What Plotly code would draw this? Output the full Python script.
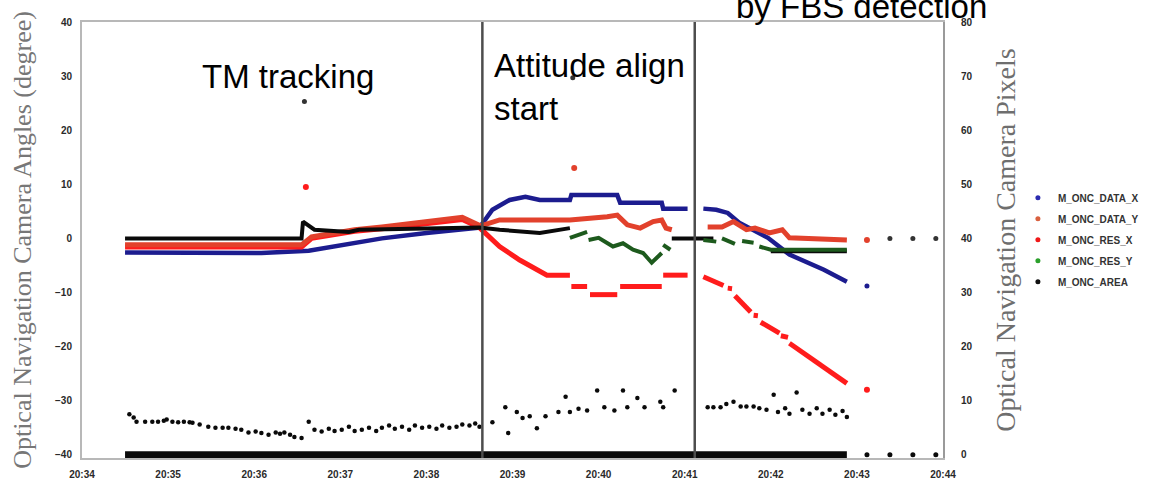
import plotly.graph_objects as go
from plotly.subplots import make_subplots

DAY = "2021-01-01 "

# ---------------- data ----------------
# M_ONC_DATA_X (blue), degrees
data_x_t = ["20:34:30", "20:35:30", "20:36:05", "20:36:38", "20:37:06", "20:37:29", "20:38:00",
            "20:38:37", "20:38:46", "20:38:58", "20:39:09", "20:39:19", "20:39:40", "20:39:41",
            "20:40:13", "20:40:15", "20:40:44", "20:40:45", "20:41:02", None,
            "20:41:13", "20:41:22", "20:41:30", "20:41:38", "20:41:58", "20:42:13", "20:42:37", "20:42:53"]
data_x_v = [-2.6, -2.7, -2.7, -2.3, -1.0, 0.0, 1.0,
            2.0, 5.3, 7.1, 7.7, 7.1, 7.1, 8.0,
            8.0, 6.6, 6.6, 5.5, 5.5, None,
            5.5, 5.3, 4.7, 2.9, 0.1, -3.0, -5.8, -8.0]
data_x_dot_t = ["20:43:07"]
data_x_dot_v = [-8.8]

# M_ONC_DATA_Y (upper red), degrees
data_y_t = ["20:34:30", "20:36:33", "20:36:40", "20:37:10", "20:37:29", "20:38:00", "20:38:25",
            "20:38:38", "20:38:51", "20:39:12", "20:39:40", "20:40:06", "20:40:13", "20:40:20",
            "20:40:29", "20:40:38", "20:40:44", "20:40:47", "20:40:51", None,
            "20:41:16", "20:41:26", "20:41:34", "20:41:43", "20:41:49", "20:41:59", "20:42:08",
            "20:42:13", "20:42:53"]
data_y_v = [-1.2, -1.2, 0.3, 1.6, 2.1, 3.0, 3.9,
            2.3, 3.4, 3.4, 3.4, 4.0, 4.3, 2.5,
            1.9, 3.1, 3.4, 1.9, 1.6, None,
            2.1, 2.1, 3.1, 1.6, 1.9, 1.0, 1.6,
            0.1, -0.3]
data_y_dot_t = ["20:43:07", "20:39:43"]
data_y_dot_v = [-0.3, 13.0]

# M_ONC_RES_X (lower red), degrees
res_x_t = ["20:34:30", "20:36:33", "20:36:40", "20:37:10", "20:37:29", "20:38:00", "20:38:25",
           "20:38:37", "20:38:51", "20:39:05", "20:39:24", "20:39:40", None,
           "20:39:41", "20:39:52", None, "20:39:54", "20:40:13", None,
           "20:40:15", "20:40:44", None, "20:40:45", "20:41:02", None,
           "20:41:13", "20:41:27", None, "20:41:30", "20:41:33", None,
           "20:41:35", "20:41:46", None, "20:41:48", "20:41:51", None,
           "20:41:53", "20:42:06", None, "20:42:07", "20:42:12", None,
           "20:42:13", "20:42:53"]
res_x_v = [-1.6, -1.6, 0.0, 1.3, 1.8, 2.7, 3.5,
           2.0, -1.5, -4.0, -6.8, -6.8, None,
           -8.9, -8.9, None, -10.4, -10.4, None,
           -8.9, -8.9, None, -6.8, -6.8, None,
           -7.1, -8.7, None, -9.2, -9.3, None,
           -10.6, -13.6, None, -14.2, -14.3, None,
           -15.5, -17.5, None, -18.0, -18.3, None,
           -19.4, -26.8]
res_x_dot_t = ["20:43:07", "20:36:36"]
res_x_dot_v = [-28.0, 9.5]

# M_ONC_RES_Y (green), degrees
res_y_t = ["20:39:40", "20:39:52", None,
           "20:39:53", "20:40:00", "20:40:10", "20:40:17", "20:40:24", "20:40:31", "20:40:37", "20:40:44", None,
           "20:40:45", "20:40:50", None,
           "20:41:13", "20:41:22", None, "20:41:26", "20:41:35", None,
           "20:41:40", "20:41:48", None, "20:41:52", "20:42:00", "20:42:53"]
res_y_v = [0.1, 1.2, None,
           -0.3, 0.1, -1.5, -0.9, -2.1, -2.7, -4.5, -2.7, None,
           -1.2, -2.1, None,
           -0.3, -0.6, None, 0.0, -1.0, None,
           -0.5, -0.8, None, -1.5, -2.1, -2.1]

# black trace near zero (degrees)
zero_t = ["20:34:30", "20:36:33", "20:36:34", "20:36:42", "20:37:06", "20:37:13", "20:38:37",
          "20:38:51", "20:39:19", "20:39:40", None,
          "20:40:51", "20:41:20", None, "20:42:00", "20:42:53"]
zero_v = [0.0, 0.0, 3.1, 1.6, 1.2, 1.6, 2.0,
          1.6, 1.0, 1.9, None,
          0.0, 0.0, None, -2.4, -2.4]
zero_dot_t = ["20:43:23", "20:43:39", "20:43:55", "20:36:35", "20:39:42"]
zero_dot_v = [0.0, 0.0, 0.0, 25.3, 29.7]

# M_ONC_AREA (black dots), pixels (right axis)
area_t = ["20:34:33", "20:34:36", "20:34:38", "20:34:44", "20:34:49", "20:34:53", "20:34:57", "20:34:59",
          "20:35:03", "20:35:07", "20:35:11", "20:35:15", "20:35:17", "20:35:22", "20:35:28", "20:35:33",
          "20:35:38", "20:35:42", "20:35:47", "20:35:51", "20:35:56", "20:36:01", "20:36:05", "20:36:10",
          "20:36:15", "20:36:18", "20:36:21", "20:36:25", "20:36:28", "20:36:33", "20:36:38", "20:36:42",
          "20:36:47", "20:36:52", "20:36:56", "20:37:01", "20:37:06", "20:37:10", "20:37:15", "20:37:20",
          "20:37:25", "20:37:29", "20:37:34", "20:37:38", "20:37:43", "20:37:48", "20:37:52", "20:37:57",
          "20:38:02", "20:38:07", "20:38:11", "20:38:16", "20:38:21", "20:38:25", "20:38:30", "20:38:34",
          "20:38:37", "20:38:46", "20:38:55", "20:38:57", "20:39:03", "20:39:07", "20:39:12", "20:39:17",
          "20:39:23", "20:39:32", "20:39:37", "20:39:40", "20:39:46", "20:39:52", "20:39:59", "20:40:04",
          "20:40:11", "20:40:17", "20:40:20", "20:40:27", "20:40:32", "20:40:43", "20:40:45", "20:40:53",
          "20:41:16", "20:41:20", "20:41:25", "20:41:29", "20:41:34", "20:41:39", "20:41:43", "20:41:48",
          "20:41:52", "20:41:57", "20:42:02", "20:42:05", "20:42:10", "20:42:13", "20:42:18", "20:42:22",
          "20:42:27", "20:42:32", "20:42:36", "20:42:41", "20:42:45", "20:42:50", "20:42:53"]
area_v = [7.5, 6.9, 6.1, 6.1, 6.1, 6.1, 6.3, 6.5,
          6.1, 6.0, 6.1, 6.0, 5.9, 5.6, 5.2, 5.0,
          5.0, 5.0, 4.8, 4.6, 4.1, 4.3, 4.0, 3.7,
          4.1, 3.9, 4.1, 3.7, 3.3, 3.1, 6.1, 4.6,
          4.3, 4.8, 4.4, 4.6, 5.2, 4.4, 4.6, 5.0,
          4.4, 5.0, 5.4, 4.8, 5.2, 4.6, 5.4, 5.0,
          5.2, 4.8, 5.4, 5.0, 5.2, 5.6, 5.4, 5.8,
          5.2, 6.0, 8.8, 4.0, 7.9, 6.8, 7.1, 4.9,
          7.1, 7.9, 10.7, 7.9, 8.5, 8.2, 11.9, 8.8,
          8.2, 11.9, 8.8, 10.5, 8.8, 9.8, 8.8, 11.9,
          8.8, 8.8, 8.8, 9.4, 9.8, 8.9, 8.9, 8.9,
          8.6, 8.3, 11.1, 7.9, 8.6, 7.6, 11.5, 8.3,
          7.6, 8.6, 7.6, 8.3, 7.4, 8.1, 7.0]

# black baseline at 0 pixels (right axis)
base_t = ["20:34:30", "20:42:53"]
base_v = [0.0, 0.0]
base_dot_t = ["20:43:07", "20:43:23", "20:43:39", "20:43:55"]
base_dot_v = [0.0, 0.0, 0.0, 0.0]

event_t = ["20:38:39", "20:41:07"]
x_ticks = ["20:34", "20:35", "20:36", "20:37", "20:38", "20:39", "20:40", "20:41", "20:42", "20:43", "20:44"]

# ---------------- figure ----------------
def T(lst):
    return [None if s is None else DAY + s for s in lst]

C_BLUE = "#1c1c8f"
C_DY = "#e2412c"
C_RX = "#ff1c1c"
C_RY = "#1d5a1d"
C_BLK = "#0a0a0a"

fig = make_subplots(specs=[[{"secondary_y": True}]])

fig.add_trace(go.Scatter(x=T(base_t), y=base_v, mode="lines", line=dict(color=C_BLK, width=7),
                         showlegend=False, hoverinfo="skip"), secondary_y=True)
fig.add_trace(go.Scatter(x=T(base_dot_t), y=base_dot_v, mode="markers", marker=dict(color=C_BLK, size=5),
                         showlegend=False, cliponaxis=False), secondary_y=True)
fig.add_trace(go.Scatter(x=T(area_t), y=area_v, mode="markers",
                         marker=dict(color=C_BLK, size=4.5), showlegend=False), secondary_y=True)

fig.add_trace(go.Scatter(x=T(data_x_t), y=data_x_v, mode="lines", line=dict(color=C_BLUE, width=4.5),
                         showlegend=False), secondary_y=False)
fig.add_trace(go.Scatter(x=T(res_x_t), y=res_x_v, mode="lines", line=dict(color=C_RX, width=5),
                         showlegend=False), secondary_y=False)
fig.add_trace(go.Scatter(x=T(data_y_t), y=data_y_v, mode="lines", line=dict(color=C_DY, width=5),
                         showlegend=False), secondary_y=False)
fig.add_trace(go.Scatter(x=T(zero_t), y=zero_v, mode="lines", line=dict(color=C_BLK, width=4),
                         showlegend=False), secondary_y=False)
fig.add_trace(go.Scatter(x=T(res_y_t), y=res_y_v, mode="lines", line=dict(color=C_RY, width=4),
                         showlegend=False), secondary_y=False)

fig.add_trace(go.Scatter(x=T(zero_dot_t), y=zero_dot_v, mode="markers", marker=dict(color="#333", size=5),
                         showlegend=False), secondary_y=False)
fig.add_trace(go.Scatter(x=T(data_x_dot_t), y=data_x_dot_v, mode="markers", marker=dict(color=C_BLUE, size=5),
                         showlegend=False), secondary_y=False)
fig.add_trace(go.Scatter(x=T(data_y_dot_t), y=data_y_dot_v, mode="markers", marker=dict(color=C_DY, size=6),
                         showlegend=False), secondary_y=False)
fig.add_trace(go.Scatter(x=T(res_x_dot_t), y=res_x_dot_v, mode="markers", marker=dict(color=C_RX, size=6),
                         showlegend=False), secondary_y=False)

legend_items = [("M_ONC_DATA_X", "#2b2bb0"), ("M_ONC_DATA_Y", "#d9603f"), ("M_ONC_RES_X", "#f01818"),
                ("M_ONC_RES_Y", "#2ca02c"), ("M_ONC_AREA", "#111111")]
for nm, col in legend_items:
    fig.add_trace(go.Scatter(x=[None], y=[None], mode="markers", name=nm, legendgroup=nm,
                             marker=dict(color=col, size=5)), secondary_y=False)

for t in event_t:
    fig.add_vline(x=DAY + t, line=dict(color="#4d4d4d", width=2.5))

tickfont = dict(family="Liberation Sans", size=10, color="#2a2a2a", weight="bold")
title_font = dict(family="Liberation Serif", size=26, color="#777777")

fig.update_layout(
    width=1176, height=485,
    margin=dict(l=82, r=233, t=22, b=27, autoexpand=False),
    paper_bgcolor="white", plot_bgcolor="white",
    showlegend=True,
    legend=dict(x=1.087, xanchor="left", y=0.63, yanchor="top",
                font=dict(family="Liberation Sans", size=10, color="#333", weight="bold"),
                tracegroupgap=2, bgcolor="rgba(0,0,0,0)"),
    font=dict(family="Liberation Sans"),
)
fig.update_xaxes(type="date", range=[DAY + "20:34:00", DAY + "20:44:00"], domain=[0, 1],
                 tickvals=[DAY + s for s in x_ticks], ticktext=x_ticks, ticklabelstandoff=6,
                 showgrid=False, zeroline=False, showline=True, linecolor="#b8b8b8", linewidth=2,
                 mirror=True, ticks="", tickfont=tickfont)
fig.update_yaxes(range=[-40.6, 40], dtick=10, showgrid=False, zeroline=False, showline=True,
                 linecolor="#b8b8b8", linewidth=2, ticks="", tickfont=tickfont, ticklabelstandoff=6,
                 title=dict(text="Optical Navigation Camera Angles (degree)", font=title_font, standoff=16),
                 secondary_y=False)
fig.update_yaxes(range=[-0.6, 80], dtick=10, showgrid=False, zeroline=False, showline=True,
                 linecolor="#9a9a9a", linewidth=2, ticks="", tickfont=tickfont, ticklabelstandoff=14,
                 title=dict(text="Optical Navigation Camera Pixels",
                            font=dict(family="Liberation Serif", size=28, color="#6e6e6e"), standoff=24),
                 secondary_y=True)

ann_font = dict(family="Liberation Sans", size=33, color="black")
fig.add_annotation(text="TM tracking", xref="paper", yref="paper", x=(200 - 82) / 861, y=(455 - 74) / 436,
                   xanchor="left", yanchor="middle", showarrow=False, font=ann_font)
fig.add_annotation(text="Attitude align<br>start", xref="paper", yref="paper", x=(492 - 82) / 861,
                   y=(455 - 84) / 436, xanchor="left", yanchor="middle", showarrow=False, font=ann_font,
                   align="left")
fig.add_annotation(text="by FBS detection", xref="paper", yref="paper", x=(734 - 82) / 861,
                   y=(455 - 3) / 436, xanchor="left", yanchor="middle", showarrow=False, font=ann_font)

fig.write_html("out.html")
